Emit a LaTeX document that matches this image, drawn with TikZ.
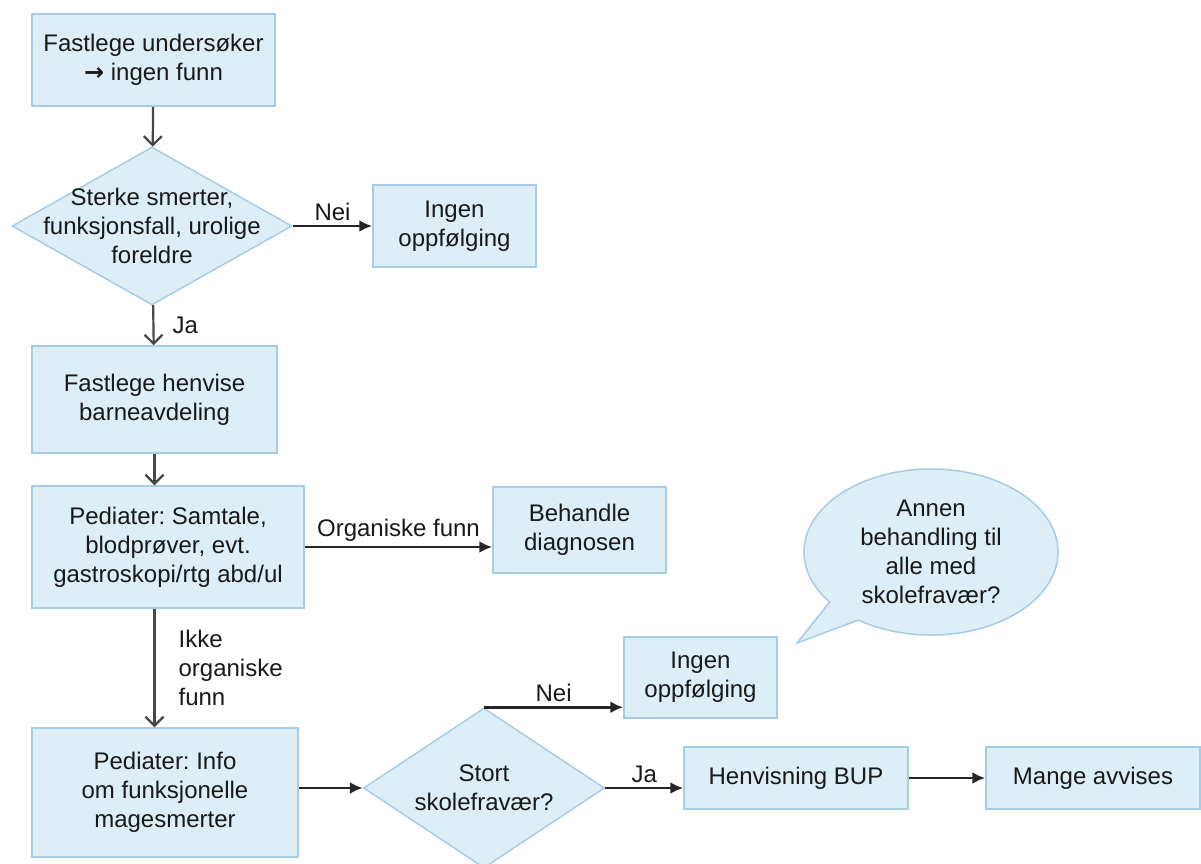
\documentclass[tikz,border=0pt]{standalone}
\usepackage{fontspec}
\setmainfont{Liberation Sans}
\newfontfamily\arrowfont{DejaVu Sans}
\usetikzlibrary{shapes.geometric}
\usetikzlibrary{shapes.callouts}
\usetikzlibrary{arrows.meta}
\definecolor{boxfill}{RGB}{221,238,246}
\definecolor{boxline}{RGB}{166,205,230}
\definecolor{ink}{RGB}{25,25,25}
\frenchspacing

\begin{document}
\begin{tikzpicture}[x=1pt, y=-1pt,
  font=\fontsize{24}{29}\selectfont, text=ink,
  box/.style={draw=boxline, fill=boxfill, line width=1.5pt, align=center, inner sep=0pt},
  decision/.style={diamond, draw=boxline, fill=boxfill, line width=1.5pt, inner sep=0pt},
  bubble/.style={ellipse callout, draw=boxline, fill=boxfill, line width=1.5pt, align=center, inner sep=0pt, callout pointer arc=18},
  txt/.style={align=center, inner sep=0pt},
  vline/.style={line width=2.2pt, draw=black!72, -{Straight Barb[length=9pt, width=18pt, line width=2.2pt]}},
  hline/.style={line width=2.6pt, draw=black!85, -{Latex[length=13pt, width=12pt]}}]

\useasboundingbox (0,0) rectangle (1201,863);

\node[box, minimum width=243, minimum height=92] (undersok) at (153.5,60) {Fastlege undersøker\\ {\arrowfont\bfseries →} ingen funn};
\node[decision, minimum width=280, minimum height=158,
      label={[txt]center:{Sterke smerter,\\funksjonsfall, urolige\\foreldre}}] (smerter) at (152,226) {};
\node[box, minimum width=163, minimum height=82] (ingen1) at (454.5,226) {Ingen\\oppfølging};
\node[box, minimum width=245, minimum height=107] (henvise) at (154.5,399.5) {Fastlege henvise\\barneavdeling};
\node[box, minimum width=272, minimum height=122] (samtale) at (168,547) {Pediater: Samtale,\\blodprøver, evt.\\gastroskopi/rtg abd/ul};
\node[box, minimum width=173, minimum height=86] (behandle) at (579.5,530) {Behandle\\diagnosen};
\node[bubble, minimum width=254, minimum height=166,
      callout absolute pointer={(797,643)}] (annen) at (931,552) {Annen\\behandling til\\alle med\\skolefravær?};
\node[box, minimum width=153, minimum height=81] (ingen2) at (700.5,677.5) {Ingen\\oppfølging};
\node[box, minimum width=266, minimum height=129] (info) at (165,792.5) {Pediater: Info\\om funksjonelle\\magesmerter};
\node[decision, minimum width=241, minimum height=160,
      label={[txt]center:{Stort\\skolefravær?}}] (stort) at (484,788) {};
\node[box, minimum width=224, minimum height=62] (bup) at (796,778) {Henvisning BUP};
\node[box, minimum width=214, minimum height=62] (avvises) at (1093,778) {Mange avvises};

\draw[vline] (undersok) -- (smerter);
\draw[hline] (smerter) -- node[above, inner sep=4pt] {Nei} (ingen1);
\draw[vline] (smerter) -- node[right, inner sep=0pt, xshift=18pt] {Ja} (henvise);
\draw[vline] (henvise.south) -- (henvise.south |- samtale.north);
\draw[hline] (samtale.east) -- node[above, inner sep=4pt] {Organiske funn} (samtale.east -| behandle.west);
\draw[vline] (henvise.south |- samtale.south) -- node[right, align=left, inner sep=0pt, xshift=23pt] {Ikke\\organiske\\funn} (henvise.south |- info.north);
\draw[hline] (info.east |- stort.west) -- (stort.west);
\draw[hline] (stort.north) -- node[above, inner sep=4pt] {Nei} (stort.north -| ingen2.west);
\draw[hline] (stort.east) -- node[above, inner sep=4pt] {Ja} (stort.east -| bup.west);
\draw[hline] (bup) -- (avvises);

\end{tikzpicture}
\end{document}
